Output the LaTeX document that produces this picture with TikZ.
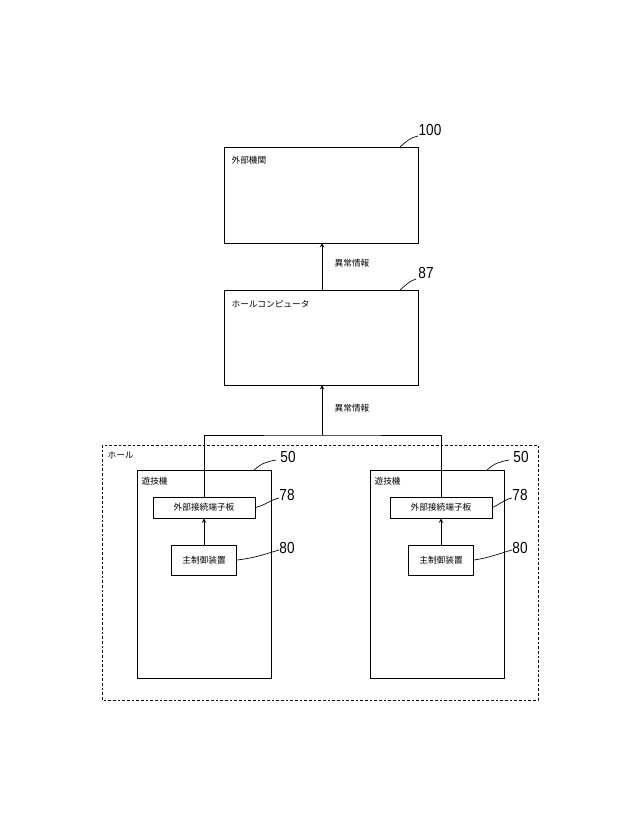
\documentclass[tikz,border=0pt]{standalone}
\usepackage{fontspec}
\newfontfamily\jp{Noto Sans CJK JP}
\setmainfont{Liberation Sans}
\usetikzlibrary{positioning}

\begin{document}
\begin{tikzpicture}[x=0.75pt,y=-0.75pt,
    box/.style={draw,line width=0.6pt,inner sep=0},
    txt/.style={font=\jp\fontsize{6.5}{7}\selectfont,inner sep=1pt},
    num/.style={font=\fontsize{12}{13}\selectfont,inner sep=0,xscale=0.85},
    lead/.style={line width=0.5pt},
    flow/.style={->,>=stealth,line width=0.5pt}]
    \useasboundingbox (0,0) rectangle (640,835);
    % outer boxes
    \draw[box] (224,147) rectangle (418,243);
    \node[txt,anchor=west] (ext) at (230,160) {外部機関};
    \node[num] (n100) at (430,130) {100};
    \draw[lead] (400,147) .. controls (408,140) and (410,138) .. (418,136);
    \draw[box] (224,290) rectangle (418,385);
    \node[txt,anchor=west] (hc) at (230,304) {ホールコンピュータ};
    \node[num] (n87) at (426,273) {87};
    \draw[lead] (400,290) .. controls (408,283) and (410,281) .. (416,279);
    \coordinate (top1) at (322,243);
    \coordinate (bot1) at (322,290);
    \coordinate (top2) at (322,385);
    \coordinate (bot2) at (322,435);
    \draw[flow] (bot1) -- (top1);
    \draw[flow] (bot2) -- (top2);
    \node[txt] (msg1) at (352,263) {異常情報};
    \node[txt] (msg2) at (352,408) {異常情報};
    % hall
    \draw[dash pattern=on 2pt off 1.5pt,line width=0.5pt] (102,445) rectangle (538,700);
    \node[txt,anchor=west] (hall) at (106,455) {ホール};
    \draw[line width=0.5pt] (204,497) |- (bot2) -| (441,497);
    \foreach \dx/\cx in {0/204,233/441} {
        \draw[box] (137+\dx,470) rectangle (271+\dx,678);
        \node[txt,anchor=west] at (140+\dx,481) {遊技機};
        \node[num] at (288+\dx,457) {50};
        \draw[lead] (254+\dx,470) .. controls (262+\dx,463) and (266+\dx,462) .. (276+\dx,460);
        \node[box,txt,minimum width=102*0.75pt,minimum height=21*0.75pt] (term\cx) at (\cx,507.5) {外部接続端子板};
        \node[num] at (287+\dx,495) {78};
        \draw[lead] (term\cx.east) .. controls (266+\dx,505) and (270+\dx,500) .. (279+\dx,498);
        \node[box,txt,minimum width=65*0.75pt,minimum height=30*0.75pt] (main\cx) at (\cx,560) {主制御装置};
        \node[num] at (287+\dx,548) {80};
        \draw[lead] (main\cx.east) .. controls (256+\dx,558) and (268+\dx,553) .. (279+\dx,550);
        \draw[flow] (main\cx) -- (term\cx);
    }
\end{tikzpicture}
\end{document}
